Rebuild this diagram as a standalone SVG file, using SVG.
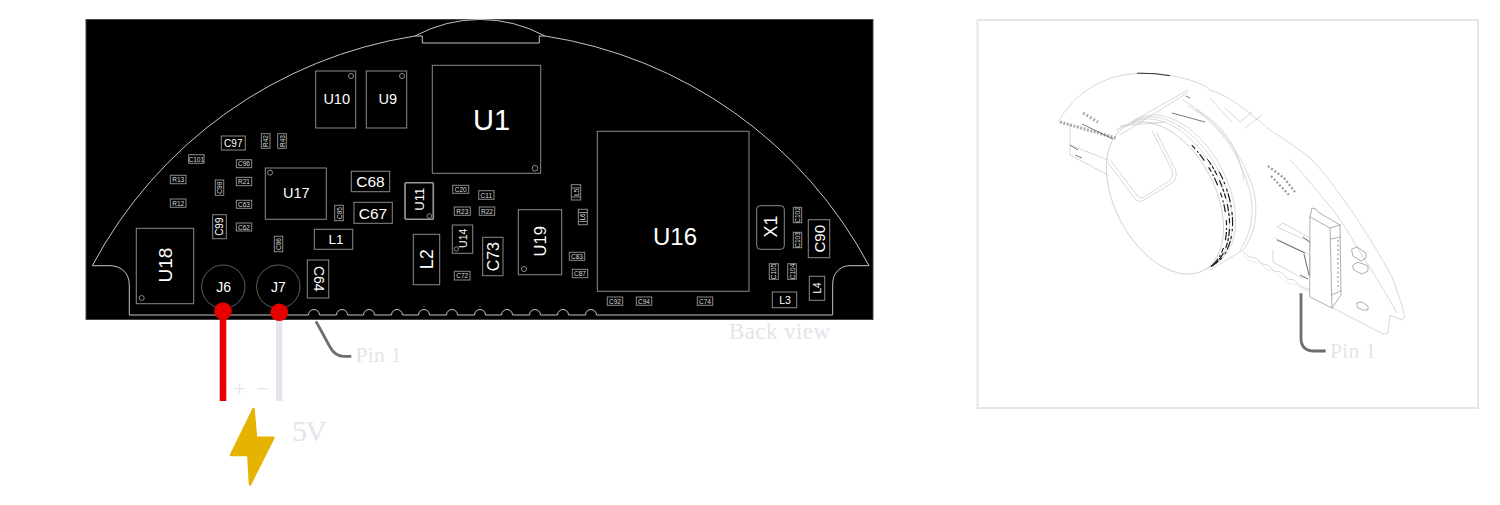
<svg xmlns="http://www.w3.org/2000/svg" width="1500" height="505" viewBox="0 0 1500 505">
<style>
.p{fill:none;stroke:#8a8a8a;stroke-width:1}
.o{fill:none;stroke:#c4c4c4;stroke-width:1}
.t{fill:#fff;font-family:"Liberation Sans",Arial,sans-serif;text-anchor:middle;dominant-baseline:central}
.s{font-size:6.5px;fill:#ddd}
.g{fill:#e6e3ea;font-family:"Liberation Serif",serif}
.d{fill:none;stroke:#bdbdbd;stroke-width:.6;stroke-linecap:round;stroke-linejoin:round}
.e{fill:none;stroke:#c8c8c8;stroke-width:.6}
.m{fill:none;stroke:#8c8c8c;stroke-width:.7;stroke-linecap:round;stroke-linejoin:round}
.b{fill:none;stroke:#1c1c1c;stroke-width:1.200}
</style>
<defs>
<clipPath id="band"><path d="M1190 140L1250 205L1245 262L1212 275L1205 205Z"/></clipPath>
</defs>
<rect x="86" y="19.500" width="787" height="300" fill="#000" stroke="#444" stroke-width="1"/>
<g id="outline">
<path class="o" d="M92.300 265.700A443 443 0 0 1 415 36L422.300 36V43H539.300V36H545A443 443 0 0 1 869 265.700H850C840 265.700 832.700 273 832.700 284V315H601L596.500 315A5.500 5.500 0 0 0 585.500 315H568.500A5.500 5.500 0 0 0 557.500 315H540.500A5.500 5.500 0 0 0 529.500 315H512.500A5.500 5.500 0 0 0 501.500 315H485.500A5.500 5.500 0 0 0 474.500 315H457.500A5.500 5.500 0 0 0 446.500 315H429.500A5.500 5.500 0 0 0 418.500 315H402.500A5.500 5.500 0 0 0 391.500 315H374.500A5.500 5.500 0 0 0 363.500 315H347.500A5.500 5.500 0 0 0 336.500 315H319.500A5.500 5.500 0 0 0 308.500 315H129.300V285C129.300 273 121 265.700 110 265.700Z"/>
<path class="o" d="M415 36A136 136 0 0 1 545 36"/>
</g>
<g id="U1"><rect class="p" x="432.300" y="65.300" width="108.400" height="108"/><circle class="p" cx="535" cy="168.300" r="2.800"/><text class="t" x="491.500" y="120" font-size="29">U1</text></g>
<g id="U9"><rect class="p" x="366.300" y="71" width="40.400" height="57"/><circle class="p" cx="402" cy="76" r="2.500"/><text class="t" x="387.700" y="99" font-size="14.500">U9</text></g>
<g id="U10"><rect class="p" x="315.700" y="71" width="40" height="57"/><circle class="p" cx="351" cy="76" r="2.500"/><text class="t" x="336.700" y="99" font-size="14.500">U10</text></g>
<g id="U16"><rect class="p" x="597.300" y="131.300" width="151.700" height="160"/><text class="t" x="675" y="236.700" font-size="24">U16</text></g>
<g id="U17"><rect class="p" x="265.300" y="168" width="61" height="51.300"/><circle class="p" cx="270" cy="172.700" r="2.500"/><text class="t" x="296.300" y="193.300" font-size="14.500">U17</text></g>
<g id="U18"><rect class="p" x="136.300" y="228.300" width="57.400" height="75.400"/><circle class="p" cx="141.700" cy="298" r="2.500"/><text class="t" transform="translate(165 265) rotate(-90)" font-size="19">U18</text></g>
<g id="U19"><rect class="p" x="518.300" y="209.700" width="43.400" height="65"/><circle class="p" cx="524" cy="269" r="2.500"/><text class="t" transform="translate(540.300 241.300) rotate(-90)" font-size="16.500">U19</text></g>
<g id="U11"><rect x="405" y="182.700" width="28.300" height="36.600" rx="1" fill="none" stroke="#9a9a9a" stroke-width="1.600"/><circle class="p" cx="429.300" cy="216" r="2.300"/><text class="t" transform="translate(419 199.300) rotate(-90)" font-size="13">U11</text></g>
<g id="U14"><rect class="p" x="452.300" y="225" width="20.400" height="28.300" stroke-width="1.300"/><circle class="p" cx="456.300" cy="249" r="2.200"/><text class="t" transform="translate(462.700 238.300) rotate(-90)" font-size="10.500">U14</text></g>
<g id="J6"><circle cx="223.300" cy="286.700" r="21.700" fill="none" stroke="#777" stroke-width=".8"/><text class="t" x="223.700" y="287" font-size="14">J6</text></g>
<g id="J7"><circle cx="278.300" cy="286.700" r="21.700" fill="none" stroke="#777" stroke-width=".8"/><text class="t" x="278.300" y="287" font-size="14">J7</text></g>
<g id="C68"><rect class="p" x="351.300" y="171.300" width="38.400" height="20.400"/><text class="t" x="370.500" y="181.500" font-size="15.500">C68</text></g>
<g id="C67"><rect class="p" x="354" y="202.300" width="38.300" height="21"/><text class="t" x="373" y="213" font-size="15.500">C67</text></g>
<g id="L1"><rect class="p" x="314.300" y="229.300" width="38.400" height="20"/><text class="t" x="336" y="239.300" font-size="13.500">L1</text></g>
<g id="C64"><rect class="p" x="307.300" y="260" width="21.400" height="38"/><text class="t" transform="translate(318.500 278.800) rotate(90)" font-size="14">C64</text></g>
<g id="L2"><rect class="p" x="413.300" y="234.300" width="26.400" height="50.400"/><text class="t" transform="translate(426.700 259.300) rotate(-90)" font-size="18">L2</text></g>
<g id="C73"><rect class="p" x="482.700" y="237.300" width="20.300" height="38.400"/><text class="t" transform="translate(493 256.700) rotate(-90)" font-size="16">C73</text></g>
<g id="C90"><rect class="p" x="808.300" y="219.700" width="21.400" height="38"/><text class="t" transform="translate(819 238.700) rotate(-90)" font-size="15">C90</text></g>
<g id="X1"><rect class="p" x="756.700" y="205.700" width="27.600" height="43.600" rx="3.500" stroke-width="1.400"/><text class="t" transform="translate(770.700 226.500) rotate(-90)" font-size="18">X1</text></g>
<g id="L3"><rect class="p" x="772.300" y="292" width="24.400" height="15.700"/><text class="t" x="785" y="299.500" font-size="10.500">L3</text></g>
<g id="L4"><rect class="p" x="809.300" y="276.300" width="15.400" height="24"/><text class="t" transform="translate(817 288) rotate(-90)" font-size="10">L4</text></g>
<g id="C97"><rect class="p" x="221.300" y="136" width="24" height="14"/><text class="t" x="233.300" y="143" font-size="10">C97</text></g>
<g id="C99"><rect class="p" x="212.700" y="214.700" width="13.600" height="24" stroke-width="1.300"/><text class="t" transform="translate(219.500 226.700) rotate(-90)" font-size="10">C99</text></g>
<g id="R42"><rect class="p" x="261.300" y="133.700" width="8.700" height="14.600"/><text class="t s" transform="translate(265.700 141) rotate(-90)">R42</text></g>
<g id="R43"><rect class="p" x="277.700" y="133.700" width="8.600" height="14.600"/><text class="t s" transform="translate(282 141) rotate(-90)">R43</text></g>
<g id="C101"><rect class="p" x="188.700" y="154.700" width="15.300" height="8.600"/><text class="t s" x="196.300" y="159">C101</text></g>
<g id="C96"><rect class="p" x="236.300" y="159.700" width="15.400" height="8"/><text class="t s" x="244" y="163.700">C96</text></g>
<g id="R13"><rect class="p" x="170.300" y="175.300" width="15.700" height="8.400"/><text class="t s" x="178.200" y="179.500">R13</text></g>
<g id="R12"><rect class="p" x="170.300" y="199" width="15.700" height="8.300"/><text class="t s" x="178.200" y="203.200">R12</text></g>
<g id="R21"><rect class="p" x="236.300" y="177.300" width="15.400" height="8.400"/><text class="t s" x="244" y="181.500">R21</text></g>
<g id="C63"><rect class="p" x="236.300" y="200.300" width="15.400" height="8"/><text class="t s" x="244" y="204.300">C63</text></g>
<g id="C62"><rect class="p" x="236.300" y="223" width="15.400" height="8"/><text class="t s" x="244" y="227">C62</text></g>
<g id="C98"><rect class="p" x="215.300" y="180" width="8.400" height="15.300"/><text class="t s" transform="translate(219.500 187.700) rotate(-90)">C98</text></g>
<g id="C86"><rect class="p" x="274.300" y="236.300" width="8.400" height="15.400"/><text class="t s" transform="translate(278.500 244) rotate(-90)">C86</text></g>
<g id="C85"><rect class="p" x="334.700" y="205.300" width="8.600" height="15.400"/><text class="t s" transform="translate(339 213) rotate(-90)">C85</text></g>
<g id="C20"><rect class="p" x="452.700" y="185.300" width="16" height="8"/><text class="t s" x="460.700" y="189.300">C20</text></g>
<g id="C11"><rect class="p" x="478.700" y="190.700" width="15.300" height="8.600"/><text class="t s" x="486.300" y="195">C11</text></g>
<g id="R23"><rect class="p" x="454.300" y="207" width="16" height="8.300"/><text class="t s" x="462.300" y="211.200">R23</text></g>
<g id="R22"><rect class="p" x="479.300" y="207" width="15.400" height="8.300"/><text class="t s" x="487" y="211.200">R22</text></g>
<g id="C72"><rect class="p" x="454.300" y="271.300" width="15.700" height="8.700"/><text class="t s" x="462.200" y="275.700">C72</text></g>
<g id="C83"><rect class="p" x="569.300" y="252.300" width="15.400" height="8"/><text class="t s" x="577" y="256.300">C83</text></g>
<g id="C87"><rect class="p" x="572.300" y="269.300" width="15.400" height="8.400"/><text class="t s" x="580" y="273.500">C87</text></g>
<g id="L5"><rect class="p" x="571.300" y="184.700" width="9.400" height="15.300"/><path class="p" d="M571.300 188H580.700M571.300 197H580.700"/><text class="t s" transform="translate(576 192.500) rotate(-90)">L5</text></g>
<g id="L6"><rect class="p" x="578.300" y="209.300" width="9" height="15.400"/><path class="p" d="M578.300 212.500H587.300M578.300 221.500H587.300"/><text class="t s" transform="translate(582.800 217) rotate(-90)">L6</text></g>
<g id="C92"><rect class="p" x="607.300" y="297" width="15.400" height="8.300"/><text class="t s" x="615" y="301.200">C92</text></g>
<g id="C94"><rect class="p" x="636.300" y="297" width="15.400" height="8.300"/><text class="t s" x="644" y="301.200">C94</text></g>
<g id="C74"><rect class="p" x="697.300" y="297" width="15.400" height="8.300"/><text class="t s" x="705" y="301.200">C74</text></g>
<g id="C102"><rect class="p" x="793.300" y="207.300" width="8.400" height="15.400"/><text class="t s" transform="translate(797.500 215) rotate(-90)">C102</text></g>
<g id="C103"><rect class="p" x="793.300" y="232.300" width="8.400" height="15.400"/><text class="t s" transform="translate(797.500 240) rotate(-90)">C103</text></g>
<g id="C105"><rect class="p" x="769.300" y="263.700" width="9" height="15.600" stroke-width="1.300"/><text class="t s" transform="translate(773.800 271.500) rotate(-90)">C105</text></g>
<g id="C104"><rect class="p" x="787.700" y="263.700" width="8.600" height="15.600" stroke-width="1.300"/><text class="t s" transform="translate(792 271.500) rotate(-90)">C104</text></g>

<g id="connectors">
<rect x="219.700" y="311" width="6.600" height="90" fill="#e60000"/>
<rect x="276" y="312" width="6.400" height="89" fill="#e6e3ea"/>
<circle cx="223" cy="311" r="8.800" fill="#e60000"/>
<circle cx="279.300" cy="312.300" r="8.800" fill="#e60000"/>
<path d="M316 321.300L330 347Q335 356.300 344 356.300H351.300" fill="none" stroke="#6e6e6e" stroke-width="2.800"/>
<path d="M1301 293.300V338Q1301 351 1314 351H1325.700" fill="none" stroke="#6e6e6e" stroke-width="2.800"/>
</g>
<g id="labels">
<text class="g" x="729" y="339" font-size="23" textLength="101">Back view</text>
<text class="g" x="355.500" y="362" font-size="21.500" textLength="46">Pin 1</text>
<text class="g" x="1330" y="358" font-size="21.500" textLength="46">Pin 1</text>
<text class="g" x="292" y="441" font-size="30" textLength="35">5V</text>
<text class="g" x="239.500" y="396" font-size="22" text-anchor="middle">+</text>
<text class="g" x="263" y="396" font-size="22" text-anchor="middle">−</text>
</g>
<path id="bolt" d="M253.500 409L256 437.700H273.500L250 484.500L248.300 455H231Z" fill="#e6b400" stroke="#e6b400" stroke-width="2.500" stroke-linejoin="round"/>

<rect id="panel" x="977.500" y="20" width="500.500" height="388" fill="none" stroke="#e6e6e8" stroke-width="2"/>
<g id="render">
<path class="d" d="M1058.300 121.700C1075 92 1105 74 1140 73.300C1165 73 1190 78 1207 87L1209 90C1230 95 1252 115 1270 130C1285 140 1298 148 1310 158C1328 176 1340 195 1353 213C1368 235 1380 255 1392 277C1397 290 1402 305 1405 316.700L1401.700 320L1390 315L1388 333L1383 334L1333 308"/>
<path class="d" d="M1290 160C1305 175 1320 195 1333 210C1345 225 1355 245 1367 263C1378 280 1388 297 1397 313"/>
<path d="M1137 73.300C1147 73 1160 74 1170 75.700" fill="none" stroke="#333" stroke-width="1.100"/>
<path d="M1172 113L1205 122M1186 96L1190 98" fill="none" stroke="#555" stroke-width=".8"/>
<path class="d" d="M1183 100C1215 118 1240 150 1252 185C1260 210 1255 235 1243 250L1210 270M1188 106C1218 122 1238 152 1248 185C1256 210 1252 232 1240 250M1196 110C1225 125 1238 148 1244 180"/>
<path class="d" d="M1225 108L1240 122L1252 112M1210 98L1232 122M1245 128L1262 115"/>
<ellipse class="e" cx="1177" cy="191" rx="82" ry="50" transform="rotate(62 1177 191)"/>
<ellipse class="e" cx="1174" cy="193" rx="82" ry="50" transform="rotate(62 1174 193)"/>
<ellipse class="e" cx="1171" cy="195" rx="82" ry="50" transform="rotate(62 1171 195)"/>
<g clip-path="url(#band)">
<ellipse class="b" cx="1171" cy="195" rx="82" ry="50" stroke-dasharray="7 2 3 2 5 6" transform="rotate(62 1171 195)"/>
<ellipse class="b" cx="1174" cy="193" rx="82" ry="50" stroke-dasharray="3 2 9 3 2 5" transform="rotate(62 1174 193)"/>
<ellipse class="b" cx="1168" cy="197" rx="82" ry="50" stroke-dasharray="5 3 2 2 8 8" transform="rotate(62 1168 197)"/>
</g>
<ellipse cx="1165" cy="198" rx="82" ry="50" fill="#fff" stroke="#c4c4c4" stroke-width=".7" transform="rotate(62 1165 198)"/>
<path class="d" d="M1108 163L1136 200Q1140 203 1144 200L1172 183Q1178 178 1175.500 170L1156.700 133M1111 161L1138 196.500Q1141 199 1144 197L1169 181Q1174 177 1172 170L1152.500 131.500"/>
<path class="d" d="M1116.700 130L1188 90M1120 135L1187 93M1120 126L1165 122"/>
<path class="d" d="M1070 124V155L1108 175M1070 145L1108 160"/>
<path d="M1060 122L1116 138" fill="none" stroke="#aaa" stroke-width="3" stroke-dasharray="2 1.500"/>
<path d="M1083 113L1098 122" fill="none" stroke="#aaa" stroke-width="3" stroke-dasharray="2 2"/>
<path d="M1070 145L1078 150M1082 124L1113 139M1075 155L1082 158" fill="none" stroke="#555" stroke-width=".8"/>
<path d="M1268 166L1284 178L1295 192M1271 176L1290 196" fill="none" stroke="#999" stroke-width="2.200" stroke-dasharray="2 2"/>
<path class="d" d="M1277 227L1283 223L1310 238M1277 227L1310 242V250M1275 238L1300 250L1310 255V277M1273 250V262L1302 278"/>
<path d="M1277 240L1305 253M1303 237L1310 242M1304 254L1309 275M1300 275L1308 279" fill="none" stroke="#444" stroke-width=".8"/>
<path d="M1243 252L1250 257L1256 258L1262 264L1268 265L1274 271L1281 272L1288 279L1294 280L1300 286L1310 290" fill="none" stroke="#c8c8c8" stroke-width=".7"/>
<path d="M1243 256L1252 262L1260 263L1266 269L1274 272L1280 277L1288 283L1296 285L1310 293" fill="none" stroke="#dedede" stroke-width=".6"/>
<path class="m" d="M1310 217L1312 208L1316 209L1318 212L1340 225L1341 295L1332 308L1310 297ZM1310 217L1330 228L1332 308M1330 228L1340 225M1331 239L1340 237M1331 295L1341 291"/>
<path d="M1338 240V290" fill="none" stroke="#999" stroke-width="1.200" stroke-dasharray="2 2.500"/>
<path class="m" d="M1352 249L1357 247L1366 253L1366 258L1361 261L1353 256ZM1353 265L1358 262L1368 266V271L1362 274L1354 270Z"/>
<path class="m" d="M1357 303L1362 302L1368 306V310H1363L1358 308Z"/>
</g>
</svg>
